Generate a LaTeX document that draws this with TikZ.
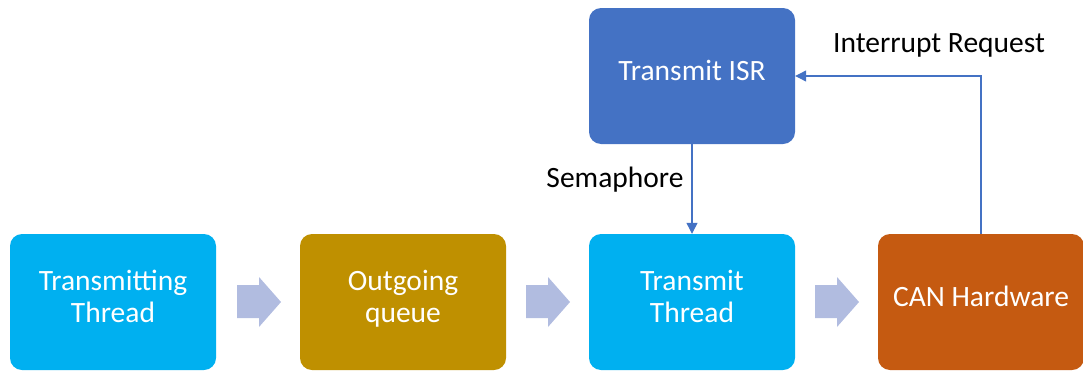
\documentclass[tikz,border=0pt]{standalone}
\usepackage{fontspec}
\setmainfont{Carlito}
\usetikzlibrary{arrows.meta,shapes.arrows}
\definecolor{cyanbox}{HTML}{00B0F0}
\definecolor{goldbox}{HTML}{BF9000}
\definecolor{bluebox}{HTML}{4472C4}
\definecolor{orangebox}{HTML}{C55A11}
\definecolor{blockarrow}{HTML}{B1BCE0}
\tikzset{
  box/.style={rounded corners=12pt, minimum width=206pt, minimum height=136pt, text=white, font=\fontsize{29.5}{32}\selectfont, align=center, inner sep=0pt},
  flow/.style={draw=bluebox, line width=1.2pt, -{Triangle[length=11pt,width=11pt]}},
  lbl/.style={font=\fontsize{29.5}{32}\selectfont, text=black, inner sep=0pt},
  barrow/.style={fill=blockarrow}
}
\begin{document}
\begin{tikzpicture}[x=1pt,y=-1pt]
\useasboundingbox (0,0) rectangle (1083,372);
\node[box, fill=cyanbox] (tt) at (113,302) {Transmitting\\Thread\\[-20pt]};
\node[box, fill=goldbox] (oq) at (403,302) {Outgoing\\queue\\[-20pt]};
\node[box, fill=cyanbox] (xt) at (692,302) {Transmit\\Thread\\[-20pt]};
\node[box, fill=orangebox] (can) at (981,302) {CAN Hardware\\[-20pt]};
\node[box, fill=bluebox] (isr) at (692,76) {Transmit ISR\\[-20pt]};
% block arrows
\foreach \x in {237,526,815} {
  \fill[blockarrow] (\x,285) -- (\x+22,285) -- (\x+22,277) -- (\x+44,302) -- (\x+22,327) -- (\x+22,318) -- (\x,318) -- cycle;
}
\coordinate (bend) at (can.north |- isr.east);
\draw[flow] (isr.south) -- (xt.north);
\draw[flow] (can.north) -- (bend) -- (isr.east);
\node[lbl] (sem) at (615,180) {Semaphore};
\node[lbl] (irq) at (939,45) {Interrupt Request};
\end{tikzpicture}
\end{document}
